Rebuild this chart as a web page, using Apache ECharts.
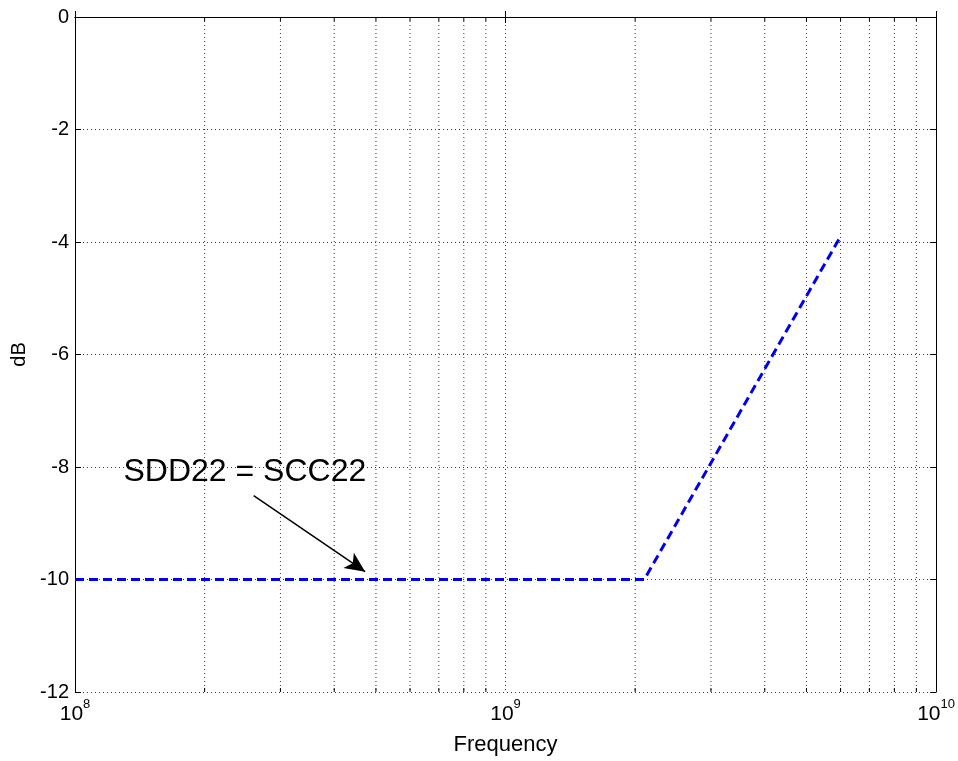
<!DOCTYPE html>
<html><head><meta charset="utf-8">
<script src="https://cdn.jsdelivr.net/npm/echarts@6/dist/echarts.min.js"></script>
<style>html,body{margin:0;padding:0;background:#fff}#c{width:958px;height:761px}</style>
</head><body><div id="c"></div>
<script>
var freqs = [1e8, 2.1e9, 6e9];
var dbVals = [-10, -10, -3.9];
var minorFreqs = [2e8,3e8,4e8,5e8,6e8,7e8,8e8,9e8,2e9,3e9,4e9,5e9,6e9,7e9,8e9,9e9];
var yTicks = [0,-2,-4,-6,-8,-10,-12];
var annText = 'SDD22 = SCC22';
var annTextPos = [2.48e8, -8.1];
var arrowFrom = [2.6e8, -8.51];
var arrowTo = [4.72e8, -9.86];

var chart = echarts.init(document.getElementById('c'));
var font = 'Liberation Sans, Arial, sans-serif';
var dotted = {color:'#333', type:[1,3], width:1};
function expLabel(v){
  var e = Math.round(Math.log10(v));
  return '{b|10}{s|' + e + '}';
}
var tickLen = 6;
chart.setOption({
  animation:false,
  grid:{left:75, right:21, top:17, bottom:67, containLabel:false},
  xAxis:[{
    type:'log', logBase:10, min:1e8, max:1e10,
    position:'bottom',
    name:'Frequency', nameLocation:'middle', nameGap:42,
    nameTextStyle:{fontFamily:font, fontSize:22, color:'#000'},
    axisLine:{show:true, lineStyle:{color:'#000', width:1}},
    axisTick:{show:true, inside:true, length:tickLen, lineStyle:{color:'#000'}},
    axisLabel:{formatter:expLabel, margin:6, rich:{
      b:{fontFamily:font, fontSize:21, color:'#000', verticalAlign:'bottom'},
      s:{fontFamily:font, fontSize:13, color:'#000', verticalAlign:'top', padding:[0,0,14,0]}}},
    splitLine:{show:true, lineStyle:dotted}
  },{
    type:'log', logBase:10, min:1e8, max:1e10, position:'top',
    axisLine:{show:true, lineStyle:{color:'#000'}},
    axisTick:{show:true, inside:true, length:tickLen, lineStyle:{color:'#000'}},
    axisLabel:{show:false}, splitLine:{show:false}
  }],
  yAxis:[{
    type:'value', min:-12, max:0, interval:2,
    name:'dB', nameLocation:'middle', nameGap:45, nameRotate:90,
    nameTextStyle:{fontFamily:font, fontSize:20, color:'#000'},
    axisLine:{show:true, lineStyle:{color:'#000'}},
    axisTick:{show:true, inside:true, length:tickLen, lineStyle:{color:'#000'}},
    axisLabel:{fontFamily:font, fontSize:20, color:'#000', margin:6,
      formatter:function(v){ return yTicks.indexOf(v) >= 0 ? String(v) : ''; }},
    splitLine:{show:true, lineStyle:dotted}
  },{
    type:'value', min:-12, max:0, interval:2, position:'right',
    axisLine:{show:true, lineStyle:{color:'#000'}},
    axisTick:{show:true, inside:true, length:tickLen, lineStyle:{color:'#000'}},
    axisLabel:{show:false}, splitLine:{show:false}
  }],
  series:[
    {
      type:'custom', xAxisIndex:0, yAxisIndex:0, silent:true, z:1,
      data: minorFreqs.map(function(f){ return [f]; }),
      renderItem:function(params, api){
        var x = api.coord([api.value(0), -12])[0];
        var yb = api.coord([api.value(0), -12])[1];
        var yt = api.coord([api.value(0), 0])[1];
        return {type:'group', children:[
          {type:'line', shape:{x1:x, y1:yt, x2:x, y2:yb}, style:{stroke:'#333', lineWidth:1, lineDash:[1,3]}},
          {type:'line', shape:{x1:x, y1:yb, x2:x, y2:yb-4}, style:{stroke:'#000', lineWidth:1}},
          {type:'line', shape:{x1:x, y1:yt, x2:x, y2:yt+4}, style:{stroke:'#000', lineWidth:1}}
        ]};
      }
    },
    {
      type:'line', xAxisIndex:0, yAxisIndex:0, z:5,
      data: freqs.map(function(f,i){ return [f, dbVals[i]]; }),
      symbol:'none',
      lineStyle:{color:'#0000ee', width:3, type:[9,5]},
      markLine:{
        silent:true, symbol:['none','arrow'], symbolSize:[14,20],
        label:{show:false},
        lineStyle:{color:'#000', width:1.5, type:'solid'},
        data:[[{coord:arrowFrom},{coord:arrowTo}]]
      }
    },
    {
      type:'scatter', xAxisIndex:0, yAxisIndex:0, z:6, silent:true,
      data:[annTextPos], symbolSize:0,
      itemStyle:{opacity:1},
      label:{show:true, position:'inside', formatter:annText,
        fontFamily:font, fontSize:32, color:'#000', opacity:1}
    }
  ]
});
</script></body></html>
